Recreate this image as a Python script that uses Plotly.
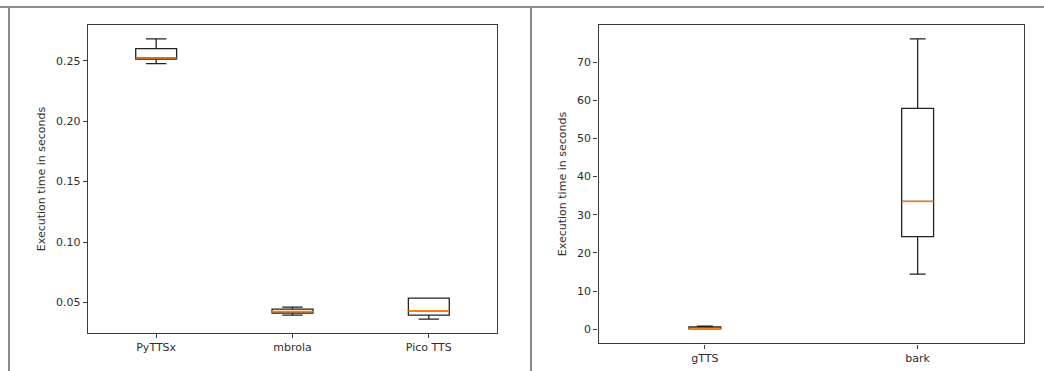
import plotly.graph_objects as go

# ---- data ----
left_names = ["PyTTSx", "mbrola", "Pico TTS"]
left_pos = [1, 2, 3]
left_lower = [0.2475, 0.0396, 0.0363]
left_q1 = [0.2514, 0.0413, 0.0396]
left_median = [0.2522, 0.0425, 0.0431]
left_q3 = [0.2599, 0.0445, 0.0536]
left_upper = [0.2680, 0.0462, 0.0536]

right_names = ["gTTS", "bark"]
right_pos = [1, 2]
right_lower = [0.10, 14.45]
right_q1 = [0.15, 24.3]
right_median = [0.30, 33.5]
right_q3 = [0.65, 57.9]
right_upper = [0.80, 76.1]

ylabel = "Execution time in seconds"

LEFT_W = 0.3
RIGHT_W = 0.15
MED_COLOR = "#ff7f0e"
AX_COLOR = "#3a3a3a"
TXT = "#2e2e2e"

fig = go.Figure()


def add_panel(pos, lo, q1, med, q3, hi, width, xa, ya):
    fig.add_trace(go.Box(
        x=pos, lowerfence=lo, q1=q1, median=med, q3=q3, upperfence=hi,
        width=width, whiskerwidth=0.5,
        line=dict(color="#222222", width=1.3),
        fillcolor="rgba(255,255,255,0)",
        boxpoints=False, hoverinfo="skip", showlegend=False,
        xaxis=xa, yaxis=ya,
    ))
    mx, my = [], []
    for p, m in zip(pos, med):
        mx += [p - width / 2, p + width / 2, None]
        my += [m, m, None]
    fig.add_trace(go.Scatter(
        x=mx, y=my, mode="lines",
        line=dict(color=MED_COLOR, width=1.6),
        hoverinfo="skip", showlegend=False,
        xaxis=xa, yaxis=ya,
    ))


add_panel(left_pos, left_lower, left_q1, left_median, left_q3, left_upper,
          LEFT_W, "x", "y")
add_panel(right_pos, right_lower, right_q1, right_median, right_q3, right_upper,
          RIGHT_W, "x2", "y2")

W, H = 1044, 371

axis_common = dict(
    showline=True, mirror=True, linecolor=AX_COLOR, linewidth=1.4,
    ticks="outside", ticklen=4, tickwidth=1, tickcolor=AX_COLOR,
    showgrid=False, zeroline=False,
    tickfont=dict(family="DejaVu Sans", size=11, color=TXT),
)

fig.update_layout(
    width=W, height=H,
    margin=dict(l=0, r=0, t=0, b=0),
    paper_bgcolor="white", plot_bgcolor="white",
    boxmode="overlay",
    xaxis=dict(**axis_common, domain=[88 / W, 497 / W], range=[0.5, 3.5],
               tickvals=left_pos, ticktext=left_names, anchor="y"),
    yaxis=dict(**axis_common, domain=[1 - 333 / H, 1 - 25 / H],
               range=[0.0248, 0.2795], tick0=0.05, dtick=0.05,
               tickformat=".2f", anchor="x",
               title=dict(text=ylabel, standoff=8,
                          font=dict(family="DejaVu Sans", size=11, color=TXT))),
    xaxis2=dict(**axis_common, domain=[598.5 / W, 1024 / W], range=[0.5, 2.5],
                tickvals=right_pos, ticktext=right_names, anchor="y2"),
    yaxis2=dict(**axis_common, domain=[1 - 343.3 / H, 1 - 24.7 / H],
                range=[-3.66, 79.8], tick0=0, dtick=10, anchor="x2",
                title=dict(text=ylabel, standoff=8,
                           font=dict(family="DejaVu Sans", size=11, color=TXT))),
)

# outer frame lines of the composite image
frame = dict(color="#8c8c8c", width=2)
fig.add_shape(type="line", xref="paper", yref="paper",
              x0=0, x1=1, y0=1 - 7 / H, y1=1 - 7 / H, line=frame)
fig.add_shape(type="line", xref="paper", yref="paper",
              x0=9 / W, x1=9 / W, y0=0, y1=1 - 7 / H, line=frame)
fig.add_shape(type="line", xref="paper", yref="paper",
              x0=531 / W, x1=531 / W, y0=0, y1=1 - 7 / H, line=frame)

fig.write_html(
    "out.html",
    config={"displayModeBar": False},
    post_script="document.body.style.margin='0';document.body.style.padding='0';",
)
